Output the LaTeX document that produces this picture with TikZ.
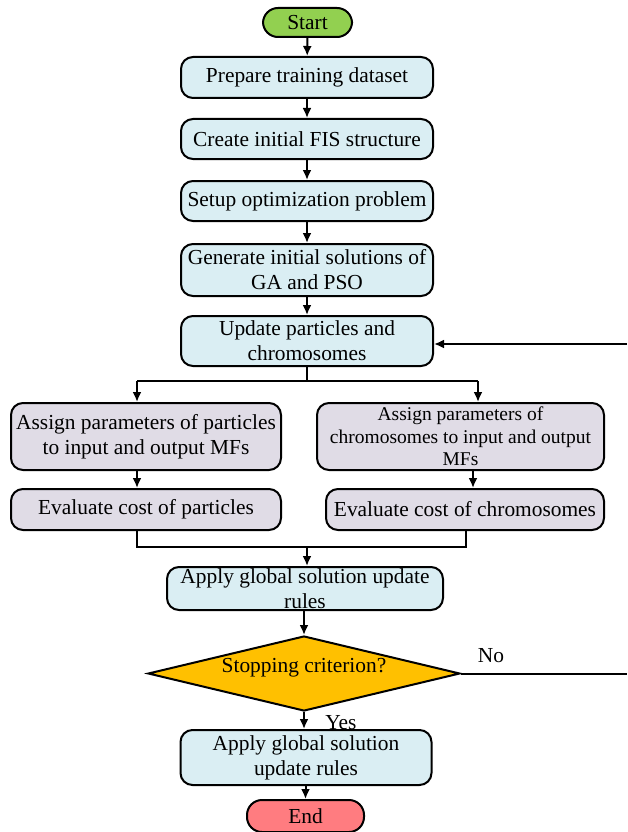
\documentclass[tikz,border=0pt]{standalone}
\usepackage{fontspec}
\setmainfont{Liberation Serif}
\usetikzlibrary{arrows.meta,shapes.geometric}

\definecolor{startgreen}{HTML}{92D050}
\definecolor{endred}{HTML}{FF7C80}
\definecolor{stepblue}{HTML}{DAEEF3}
\definecolor{steplilac}{HTML}{E0DCE6}
\definecolor{decisionorange}{HTML}{FFC000}

\tikzset{
  txt/.style={font=\fontsize{21.4}{25}\selectfont, align=center},
  stepbox/.style={txt, draw=black, line width=2pt, rounded corners=12pt,
                  fill=stepblue, inner sep=0pt},
  pairbox/.style={stepbox, fill=steplilac},
  terminal/.style={txt, draw=black, line width=2pt, rounded corners=15pt, inner sep=0pt},
  decision/.style={diamond, draw=black, line width=2pt, fill=decisionorange,
                   inner sep=0pt, aspect=4.16},
  link/.style={line width=2pt},
  arr/.style={link, -{Latex[length=10pt,width=9pt]}},
}

\begin{document}
\begin{tikzpicture}[x=1pt,y=-1pt]
\useasboundingbox (0,0) rectangle (627,832);

% main column
\node[terminal, fill=startgreen, minimum width=89pt, minimum height=29pt] (start) at (307.5,22.5) {Start};
\node[stepbox, minimum width=252pt, minimum height=41pt] (prep) at (307,77.5) {Prepare training dataset};
\node[stepbox, minimum width=252pt, minimum height=40pt] (fis) at (307,139) {Create initial FIS structure};
\node[stepbox, minimum width=252pt, minimum height=40pt] (setup) at (307,201) {Setup optimization problem};
\node[stepbox, minimum width=252pt, minimum height=52pt] (gen) at (307,270) {Generate initial solutions of\\GA and PSO};
\node[stepbox, minimum width=252pt, minimum height=50pt] (upd) at (307,341) {Update particles and\\chromosomes};

% two parallel branches
\node[pairbox, minimum width=270pt, minimum height=67pt] (la) at (146,436.5) {Assign parameters of particles\\to input and output MFs};
\node[pairbox, minimum width=287pt, minimum height=67pt, font=\fontsize{19.5}{22.5}\selectfont] (ra) at (460.5,436.5) {Assign parameters of\\chromosomes to input and output\\MFs};
\node[pairbox, minimum width=270pt, minimum height=41pt] (le) at (146,509.5) {Evaluate cost of particles};
\node[pairbox, minimum width=278pt, minimum height=41pt] (re) at (465,509.5) {Evaluate cost of chromosomes};

% lower part
\node[stepbox, minimum width=276pt, minimum height=43pt] (ag) at (305,588.5) {Apply global solution update\\rules};
\node[decision, minimum width=312pt, minimum height=75pt] (dia) at (304,673.5) {};
\node[txt] (diatxt) at (304,668) {Stopping criterion?};
\node[stepbox, minimum width=251pt, minimum height=55pt] (ag2) at (306,757.5) {Apply global solution\\update rules};
\node[terminal, fill=endred, minimum width=117pt, minimum height=32pt] (end) at (305.5,816) {End};

% branch and merge points
\coordinate (split) at (307,381);
\coordinate (brL) at (137,381);
\coordinate (brR) at (478,381);
\coordinate (colR) at (473,500);
\coordinate (merge) at (307,547);
\coordinate (mgL) at (137,547);
\coordinate (mgR) at (466,547);
\coordinate (noEnd) at (627,673.5);
\coordinate (loopStart) at (627,344);

% connectors
\draw[arr] (start) -- (prep);
\draw[arr] (prep) -- (fis);
\draw[arr] (fis) -- (setup);
\draw[arr] (setup) -- (gen);
\draw[arr] (gen) -- (upd);
\draw[link] (upd.south) -- (split);
\draw[link] (brL) -- (brR);
\draw[arr] (brL) -- (la.north -| brL);
\draw[arr] (brR) -- (ra.north -| brR);
\draw[arr] (la.south -| brL) -- (le.north -| brL);
\draw[arr] (ra.south -| colR) -- (re.north -| colR);
\draw[link] (le.south -| mgL) -- (mgL) -- (mgR) -- (re.south -| mgR);
\draw[arr] (merge) -- (ag.north -| merge);
\draw[arr] (ag.south -| dia) -- (dia.north);
\draw[arr] (dia.south) -- (ag2.north -| dia.south);
\draw[arr] (ag2.south -| end) -- (end.north);
\draw[link] (dia.east) -- (noEnd);
\draw[arr] (loopStart) -- (upd.east |- loopStart);

% branch labels
\node[txt, anchor=base] (nolbl) at (491,662) {No};
\node[txt, anchor=base] (yeslbl) at (341,729) {Yes};
\end{tikzpicture}
\end{document}
